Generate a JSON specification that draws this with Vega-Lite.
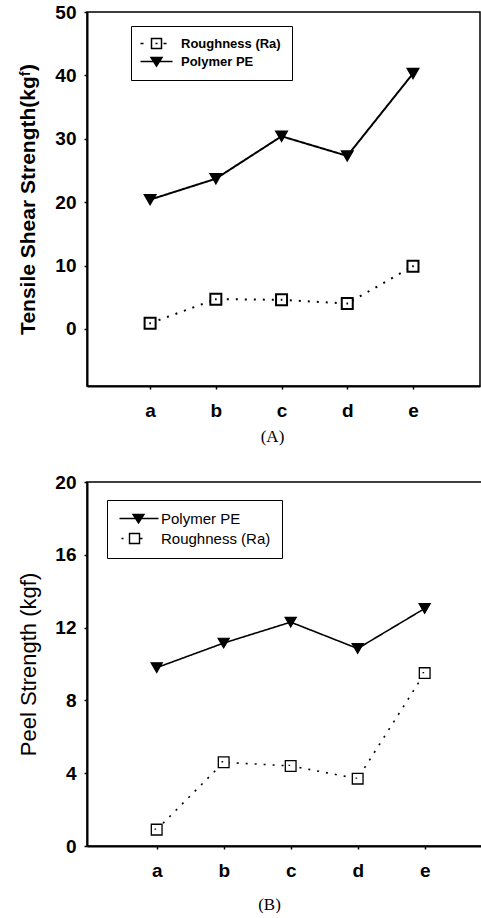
{
  "$schema": "https://vega.github.io/schema/vega-lite/v6.json",
  "padding": {"left": 17, "top": 2, "right": 0, "bottom": 0},
  "background": "white",
  "config": {
    "font": "Liberation Sans",
    "view": {"stroke": "black", "strokeWidth": 1.5},
    "axis": {"grid": false, "domainColor": "black", "domainWidth": 2, "tickColor": "black", "tickWidth": 1.5, "labelColor": "black", "titleColor": "black", "labelFont": "Liberation Sans", "labelFontWeight": "bold", "labelFontSize": 19, "titleFont": "Liberation Sans"}
  },
  "datasets": {
    "tensile": [
      {"sample": "a", "series": "Polymer PE", "value": 20.4},
      {"sample": "b", "series": "Polymer PE", "value": 23.7},
      {"sample": "c", "series": "Polymer PE", "value": 30.4},
      {"sample": "d", "series": "Polymer PE", "value": 27.3},
      {"sample": "e", "series": "Polymer PE", "value": 40.3},
      {"sample": "a", "series": "Roughness (Ra)", "value": 0.9},
      {"sample": "b", "series": "Roughness (Ra)", "value": 4.7},
      {"sample": "c", "series": "Roughness (Ra)", "value": 4.6},
      {"sample": "d", "series": "Roughness (Ra)", "value": 4.0},
      {"sample": "e", "series": "Roughness (Ra)", "value": 9.9}
    ],
    "peel": [
      {"sample": "a", "curve": "Polymer PE", "value": 9.8},
      {"sample": "b", "curve": "Polymer PE", "value": 11.15},
      {"sample": "c", "curve": "Polymer PE", "value": 12.3},
      {"sample": "d", "curve": "Polymer PE", "value": 10.85},
      {"sample": "e", "curve": "Polymer PE", "value": 13.05},
      {"sample": "a", "curve": "Roughness (Ra)", "value": 0.9},
      {"sample": "b", "curve": "Roughness (Ra)", "value": 4.6},
      {"sample": "c", "curve": "Roughness (Ra)", "value": 4.4},
      {"sample": "d", "curve": "Roughness (Ra)", "value": 3.7},
      {"sample": "e", "curve": "Roughness (Ra)", "value": 9.5}
    ]
  },
  "spacing": 27,
  "vconcat": [
    {
      "width": 393,
      "height": 374,
      "data": {"name": "tensile"},
      "encoding": {
        "x": {"field": "sample", "type": "ordinal", "scale": {"type": "point", "padding": 0.99, "align": 0.485},
          "axis": {"title": "(A)", "labelAngle": 0, "tickSize": 3, "labelPadding": 12, "titleFont": "Liberation Serif", "titleFontSize": 17, "titleFontWeight": "normal", "titlePadding": 8, "titleX": 185}},
        "y": {"field": "value", "type": "quantitative", "scale": {"domain": [-9, 50], "nice": false, "zero": false},
          "axis": {"values": [0, 10, 20, 30, 40, 50], "title": "Tensile Shear Strength(kgᶠ)", "tickSize": 3, "labelPadding": 8, "titleFontSize": 21, "titleFontWeight": "bold", "titlePadding": 16}}
      },
      "layer": [
        {
          "mark": {"type": "line", "color": "black", "strokeWidth": 2},
          "encoding": {
            "strokeDash": {"field": "series", "type": "nominal", "scale": {"domain": ["Roughness (Ra)", "Polymer PE"], "range": [[2, 7], [1, 0]]}, "legend": null}
          }
        },
        {
          "transform": [{"filter": "datum.series === 'Polymer PE'"}],
          "mark": {"type": "point", "shape": "triangle-down", "filled": true, "fill": "black", "stroke": "black", "strokeWidth": 1.5, "opacity": 1, "size": 130}
        },
        {
          "transform": [{"filter": "datum.series === 'Roughness (Ra)'"}],
          "mark": {"type": "point", "shape": "M-1,-1H1V1H-1ZM-0.15,0H0.15", "filled": true, "fill": "white", "stroke": "black", "strokeWidth": 2, "opacity": 1, "size": 121}
        },
        {
          "mark": {"type": "point", "opacity": 0, "size": 1, "color": "black"},
          "encoding": {
            "shape": {"field": "series", "type": "nominal",
              "scale": {"domain": ["Roughness (Ra)", "Polymer PE"], "range": ["M-1.6,0H-1M0.6,-1H2.6V1H0.6ZM1.4,0H1.8M3,0H3.6", "M-1.6,0H4.8M0.5,-0.8H2.7L1.6,0.9ZM0.83,-0.63H2.37L1.6,0.56ZM1.16,-0.46H2.04L1.6,0.22ZM1.47,-0.3H1.73L1.6,-0.1Z"]},
              "legend": {
                "title": null, "orient": "none", "legendX": 44, "legendY": 14,
                "strokeColor": "black", "fillColor": "white", "padding": 11, "rowPadding": 2,
                "symbolSize": 100, "symbolStrokeWidth": 1.5, "symbolStrokeColor": "black", "symbolOpacity": 1, "labelOffset": 26,
                "labelFontSize": 13, "labelFontWeight": "bold", "labelFont": "Liberation Sans", "labelColor": "black"
              }
            }
          }
        }
      ]
    },
    {
      "width": 402,
      "height": 364,
      "data": {"name": "peel"},
      "encoding": {
        "x": {"field": "sample", "type": "ordinal", "scale": {"type": "point", "padding": 1.05, "align": 0.52},
          "axis": {"title": "(B)", "labelAngle": 0, "tickSize": 3, "labelPadding": 12, "titleFont": "Liberation Serif", "titleFontSize": 17, "titleFontWeight": "normal", "titlePadding": 16, "titleX": 182}},
        "y": {"field": "value", "type": "quantitative", "scale": {"domain": [0, 20], "nice": false},
          "axis": {"values": [0, 4, 8, 12, 16, 20], "title": "Peel Strength (kgf)", "tickSize": 3, "labelPadding": 8, "titleFontSize": 22, "titleFontWeight": "normal", "titlePadding": 14}}
      },
      "layer": [
        {
          "mark": {"type": "line", "color": "black", "strokeWidth": 1.6},
          "encoding": {
            "strokeDash": {"field": "curve", "type": "nominal", "scale": {"domain": ["Polymer PE", "Roughness (Ra)"], "range": [[1, 0], [2, 8]]}, "legend": null}
          }
        },
        {
          "transform": [{"filter": "datum.curve === 'Polymer PE'"}],
          "mark": {"type": "point", "shape": "triangle-down", "filled": true, "fill": "black", "stroke": "black", "strokeWidth": 1.2, "opacity": 1, "size": 125}
        },
        {
          "transform": [{"filter": "datum.curve === 'Roughness (Ra)'"}],
          "mark": {"type": "point", "shape": "M-1,-1H1V1H-1ZM-0.4,-0.1H-0.1", "filled": true, "fill": "white", "stroke": "black", "strokeWidth": 1.3, "opacity": 1, "size": 115}
        },
        {
          "mark": {"type": "point", "opacity": 0, "size": 1, "filled": true},
          "encoding": {
            "color": {"field": "curve", "type": "nominal", "scale": {"domain": ["Polymer PE", "Roughness (Ra)"], "range": ["black", "white"]},
              "legend": {
                "title": null, "orient": "none", "legendX": 20, "legendY": 488,
                "strokeColor": "black", "fillColor": "white", "padding": 11, "rowPadding": 3,
                "symbolSize": 100, "symbolStrokeWidth": 1.4, "symbolStrokeColor": "black", "symbolOpacity": 1, "labelOffset": 28,
                "symbolType": {"expr": "datum.value === 'Polymer PE' ? 'M-1.2,0H6.6M1.5,-0.8H3.7L2.6,0.9Z' : 'M-0.8,0H-0.4M0.8,-1H2.8V1H0.8ZM2.8,0H3.4'"},
                "labelFontSize": 15, "labelFontWeight": "normal", "labelFont": "Liberation Sans", "labelColor": "black"
              }
            }
          }
        }
      ]
    }
  ]
}
